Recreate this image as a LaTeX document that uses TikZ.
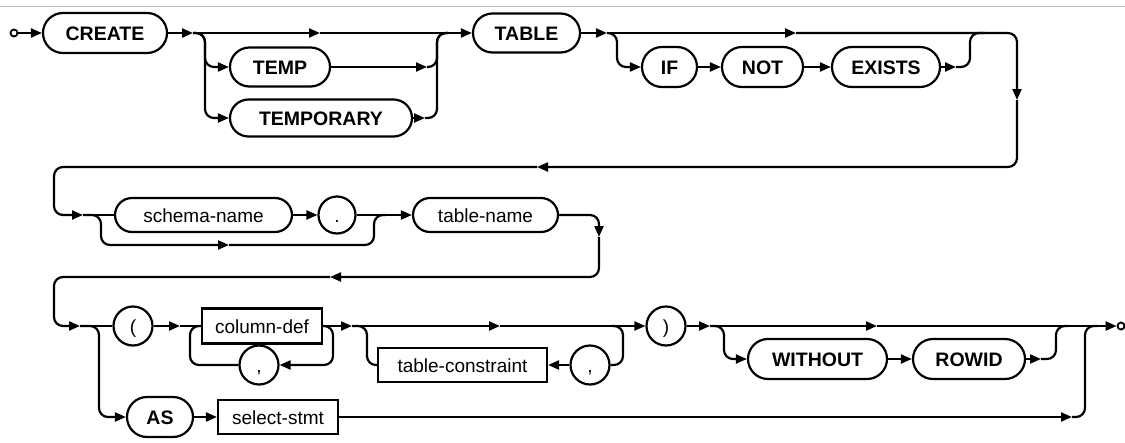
\documentclass[tikz,border=0pt]{standalone}
\usepackage{fontspec}
\setsansfont{Liberation Sans}
\usetikzlibrary{arrows.meta,shapes.misc}
\begin{document}
\begin{tikzpicture}[x=1pt,y=-1pt,
  ln/.style={line width=2.2pt, line join=round},
  arr/.style={ln, -{Triangle[length=11pt,width=9pt]}},
  rc/.style={rounded corners=9pt},
  kw/.style={draw, line width=2.2pt, rounded rectangle, inner sep=0pt, minimum height=39pt,
    font=\sffamily\bfseries\fontsize{19.5}{19.5}\selectfont, text height=17pt, text depth=3pt},
  ntr/.style={draw, line width=2.2pt, rounded rectangle, inner sep=0pt, minimum height=34pt,
    font=\sffamily\fontsize{19}{19}\selectfont, text height=17pt, text depth=3pt},
  nt/.style={draw, line width=2.2pt, rectangle, inner sep=0pt, minimum height=34pt,
    font=\sffamily\fontsize{19}{19}\selectfont, text height=17pt, text depth=3pt},
  pc/.style={draw, line width=2.2pt, circle, inner sep=0pt, minimum size=39pt,
    font=\sffamily\fontsize{19}{19}\selectfont, text height=17pt, text depth=3pt},
  term/.style={draw, line width=1.8pt, circle, inner sep=0pt, minimum size=7pt}
]
\useasboundingbox (0,0) rectangle (1125,442);
\draw[black!25, line width=1pt] (0,6) -- (1125,6);

% ---- nodes row 1
\node[term] (start) at (14,33) {};
\node[kw, minimum width=124pt, minimum height=40pt] (create) at (105,33) {CREATE};
\node[kw, minimum width=100pt] (temp) at (280,67) {TEMP};
\node[kw, minimum width=182pt, minimum height=37pt] (temporary) at (321,118) {TEMPORARY};
\node[kw, minimum width=107pt] (table) at (526.5,33) {TABLE};
\node[kw, minimum width=55pt, minimum height=40pt] (if) at (669.5,67) {IF};
\node[kw, minimum width=81pt, minimum height=40pt] (not) at (762.5,67) {NOT};
\node[kw, minimum width=108pt, minimum height=40pt] (exists) at (886,67) {EXISTS};
% ---- nodes row 2
\node[ntr, minimum width=177pt] (schema) at (203.5,215) {schema-name};
\node[pc, minimum size=37pt] (dot) at (337,215) {.};
\node[ntr, minimum width=145pt] (tname) at (485.5,215) {table-name};
% ---- nodes row 3
\node[pc] (lpar) at (133,326) {(};
\node[nt, minimum width=120pt, minimum height=35pt] (coldef) at (262,326) {column-def};
\node[pc] (comma1) at (259,365) {,};
\node[nt, minimum width=169pt] (tcons) at (462.5,365) {table-constraint};
\node[pc] (comma2) at (590,365) {,};
\node[pc] (rpar) at (666,326) {)};
\node[kw, minimum width=139pt, minimum height=40pt] (without) at (817.5,359) {WITHOUT};
\node[kw, minimum width=112pt, minimum height=40pt] (rowid) at (969,359) {ROWID};
\node[kw, minimum width=66pt, minimum height=40pt] (as) at (160,417) {AS};
\node[nt, minimum width=120pt] (sel) at (278,417) {select-stmt};
\node[term] (endc) at (1121,326) {};

% ---- junction coordinates
\coordinate (j1) at (193,33);
\coordinate (m1) at (320,33);
\coordinate (t1) at (427,67);
\coordinate (t2) at (425,118);
\coordinate (r1) at (448,33);
\coordinate (j3) at (607,33);
\coordinate (m2) at (796,33);
\coordinate (t3) at (956,67);
\coordinate (r2) at (985,33);
\coordinate (c1) at (1017,100);
\coordinate (m3) at (537,167);
\coordinate (j4) at (83,215);
\coordinate (m4) at (229,245);
\coordinate (r3) at (386,215);
\coordinate (c2) at (599,237);
\coordinate (m5) at (330,277);
\coordinate (j6) at (80,326);
\coordinate (j7) at (180,326);
\coordinate (j8) at (352,326);
\coordinate (m7) at (500,326);
\coordinate (s1) at (612,326);
\coordinate (j9) at (710,326);
\coordinate (m8) at (877,326);
\coordinate (t4) at (1041,359);
\coordinate (r4) at (1068,326);
\coordinate (m6) at (1072,417);
\coordinate (r5) at (1097,326);

% ---- row 1 connectors
\draw[arr] (start.east) -- (create.west);
\draw[arr] (create.east) -- (j1);
\draw[arr] (j1) -- (m1);
\draw[arr] (m1) -- (table.west);
\draw[arr,rc] (j1) -| (205,67) -- (temp.west);
\draw[arr] (temp.east) -- (t1);
\draw[ln,rc] (t1) -| (437,33) -- (r1);
\draw[arr,rc] (j1) -| (205,118) -- (temporary.west);
\draw[arr] (temporary.east) -- (t2);
\draw[ln,rc] (t2) -| (437,33) -- (r1);
\draw[arr] (table.east) -- (j3);
\draw[arr] (j3) -- (m2);
\draw[arr,rc] (m2) -| (c1);
\draw[arr,rc] (j3) -| (617,67) -- (if.west);
\draw[arr] (if.east) -- (not.west);
\draw[arr] (not.east) -- (exists.west);
\draw[arr] (exists.east) -- (t3);
\draw[ln,rc] (t3) -| (970,33) -- (r2);
% ---- to row 2
\draw[arr,rc] (c1) |- (m3);
\draw[arr,rc] (m3) -| (54,215) -- (j4);
% ---- row 2 connectors
\draw[ln] (j4) -- (schema.west);
\draw[arr] (schema.east) -- (dot.west);
\draw[arr] (dot.east) -- (tname.west);
\draw[arr,rc] (j4) -| (101,245) -- (m4);
\draw[ln,rc] (m4) -| (374,215) -- (r3);
\draw[arr,rc] (tname.east) -| (c2);
\draw[arr,rc] (c2) |- (m5);
\draw[arr,rc] (m5) -| (54,326) -- (j6);
% ---- row 3 connectors
\draw[ln] (j6) -- (lpar.west);
\draw[arr,rc] (j6) -| (99,417) -- (as.west);
\draw[arr] (as.east) -- (sel.west);
\draw[arr] (sel.east) -- (m6);
\draw[ln,rc] (m6) -| (1085,326) -- (r5);
\draw[arr] (lpar.east) -- (j7);
\draw[ln] (j7) -- (coldef.west);
\draw[arr,rc] (coldef.east) -- (333,326) -- (333,365) -- (comma1.east);
\draw[ln,rc] (comma1.west) -| (190,326) -- (coldef.west);
\draw[arr] (coldef.east) -- (j8);
\draw[arr] (j8) -- (m7);
\draw[arr] (m7) -- (rpar.west);
\draw[ln,rc] (j8) -| (367,365) -- (tcons.west);
\draw[arr] (comma2.west) -- (tcons.east);
\draw[ln,rc] (s1) -- (623,326) -- (623,365) -- (comma2.east);
\draw[arr] (rpar.east) -- (j9);
\draw[arr] (j9) -- (m8);
\draw[arr] (m8) -- (endc.west);
\draw[arr,rc] (j9) -| (724,359) -- (without.west);
\draw[arr] (without.east) -- (rowid.west);
\draw[arr] (rowid.east) -- (t4);
\draw[ln,rc] (t4) -| (1056,326) -- (r4);
\end{tikzpicture}
\end{document}
